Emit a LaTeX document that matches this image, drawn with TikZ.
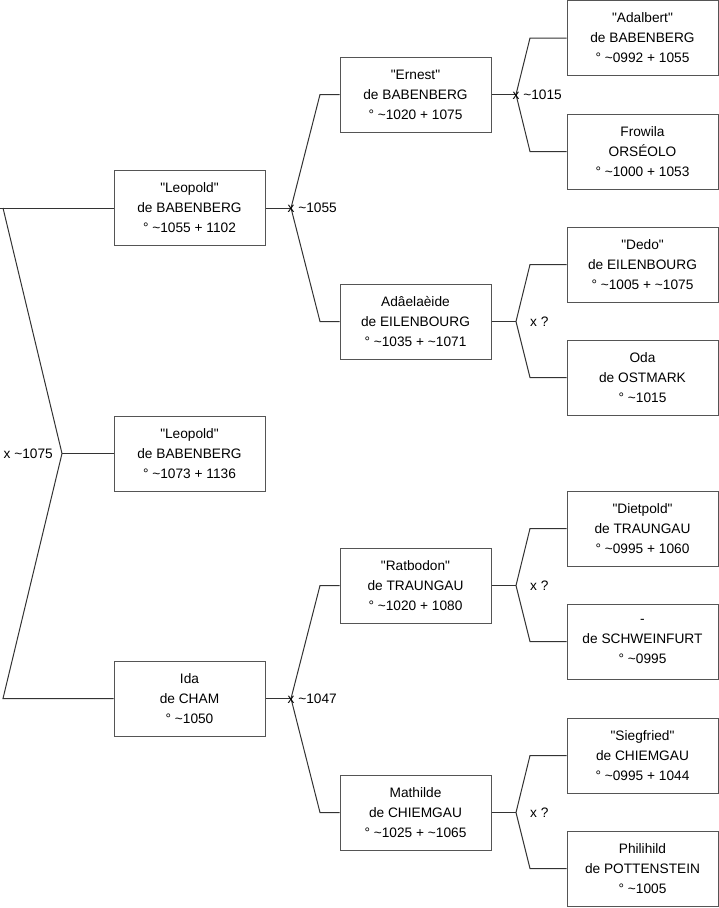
\documentclass[tikz,border=0pt]{standalone}
\usepackage{fontspec}
\setmainfont{Liberation Sans}
\definecolor{boxgray}{HTML}{555555}
\definecolor{linegray}{HTML}{333333}
\newcommand{\qq}[1]{\textquotedbl#1\textquotedbl}
\begin{document}
\begin{tikzpicture}[x=1pt,y=-1pt,
  person/.style={draw=boxgray, line width=1pt, fill=white, minimum width=151pt, minimum height=75pt,
    align=center, inner sep=0pt, font=\fontsize{13.7}{20}\selectfont},
  link/.style={draw=linegray, line width=1pt},
  marr/.style={font=\fontsize{13.7}{16}\selectfont, inner sep=0pt}]
\useasboundingbox (0,0) rectangle (719,908);

% generation 1
\node[person] (leo1) at (189.5,208) {\qq{Leopold}\\de BABENBERG\\° \textasciitilde1055 + 1102};
\node[person] (leo2) at (189.5,453.5) {\qq{Leopold}\\de BABENBERG\\° \textasciitilde1073 + 1136};
\node[person] (ida)  at (189.5,698.5) {Ida\\de CHAM\\° \textasciitilde1050};
% generation 2
\node[person] (ernest) at (415.5,94.5) {\qq{Ernest}\\de BABENBERG\\° \textasciitilde1020 + 1075};
\node[person] (adel)   at (415.5,321.5) {Adâelaèide\\de EILENBOURG\\° \textasciitilde1035 + \textasciitilde1071};
\node[person] (ratb)   at (415.5,585.5) {\qq{Ratbodon}\\de TRAUNGAU\\° \textasciitilde1020 + 1080};
\node[person] (math)   at (415.5,812.5) {Mathilde\\de CHIEMGAU\\° \textasciitilde1025 + \textasciitilde1065};
% generation 3
\node[person] (adal)  at (642.5,38) {\qq{Adalbert}\\de BABENBERG\\° \textasciitilde0992 + 1055};
\node[person] (frow)  at (642.5,151.5) {Frowila\\ORSÉOLO\\° \textasciitilde1000 + 1053};
\node[person] (dedo)  at (642.5,264.5) {\qq{Dedo}\\de EILENBOURG\\° \textasciitilde1005 + \textasciitilde1075};
\node[person] (oda)   at (642.5,377.5) {Oda\\de OSTMARK\\° \textasciitilde1015};
\node[person] (diet)  at (642.5,528.5) {\qq{Dietpold}\\de TRAUNGAU\\° \textasciitilde0995 + 1060};
\node[person] (schw)  at (642.5,641.5) {-\\de SCHWEINFURT\\° \textasciitilde0995};
\node[person] (sieg)  at (642.5,755.5) {\qq{Siegfried}\\de CHIEMGAU\\° \textasciitilde0995 + 1044};
\node[person] (phil)  at (642.5,868.5) {Philihild\\de POTTENSTEIN\\° \textasciitilde1005};

% junction points
\coordinate (j0) at (62,453.5);
\coordinate (j0a) at (3,208);
\coordinate (j0b) at (3,698.5);
\coordinate (j1) at (291,208);
\coordinate (j1a) at (320,94.5);
\coordinate (j1b) at (320,321.5);
\coordinate (j2) at (291,698.5);
\coordinate (j2a) at (320,585.5);
\coordinate (j2b) at (320,812.5);
\coordinate (j3) at (516,94.5);
\coordinate (j3a) at (530,38);
\coordinate (j3b) at (530,151.5);
\coordinate (j4) at (516,321.5);
\coordinate (j4a) at (530,264.5);
\coordinate (j4b) at (530,377.5);
\coordinate (j5) at (516,585.5);
\coordinate (j5a) at (530,528.5);
\coordinate (j5b) at (530,641.5);
\coordinate (j6) at (516,812.5);
\coordinate (j6a) at (530,755.5);
\coordinate (j6b) at (530,868.5);
\coordinate (e0) at (0,208);

% connectors
\draw[link] (e0) -- (leo1.west);
\draw[link] (j0a) -- (j0) -- (j0b) -- (ida.west);
\draw[link] (j0) -- (leo2.west);

\draw[link] (leo1.east) -- (j1);
\draw[link] (ernest.west) -- (j1a) -- (j1) -- (j1b) -- (adel.west);
\draw[link] (ida.east) -- (j2);
\draw[link] (ratb.west) -- (j2a) -- (j2) -- (j2b) -- (math.west);

\draw[link] (ernest.east) -- (j3);
\draw[link] (adal.west) -- (j3a) -- (j3) -- (j3b) -- (frow.west);
\draw[link] (adel.east) -- (j4);
\draw[link] (dedo.west) -- (j4a) -- (j4) -- (j4b) -- (oda.west);
\draw[link] (ratb.east) -- (j5);
\draw[link] (diet.west) -- (j5a) -- (j5) -- (j5b) -- (schw.west);
\draw[link] (math.east) -- (j6);
\draw[link] (sieg.west) -- (j6a) -- (j6) -- (j6b) -- (phil.west);

% marriage labels
\node[marr, anchor=east] (m0) at (53,453.5) {x \textasciitilde1075};
\node[marr, anchor=west] (m1) at (287.5,208) {x \textasciitilde1055};
\node[marr, anchor=west] (m2) at (287.5,698.5) {x \textasciitilde1047};
\node[marr, anchor=west] (m3) at (512.5,94.5) {x \textasciitilde1015};
\node[marr, anchor=west] (m4) at (530,321.5) {x ?};
\node[marr, anchor=west] (m5) at (530,585.5) {x ?};
\node[marr, anchor=west] (m6) at (530,812.5) {x ?};
\end{tikzpicture}
\end{document}
